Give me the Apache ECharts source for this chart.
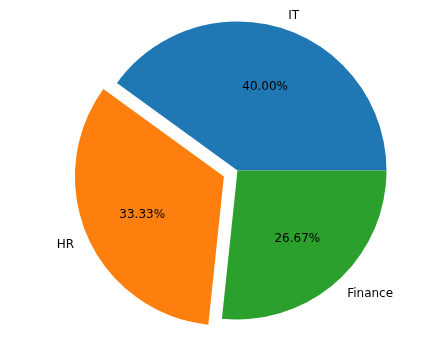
<!DOCTYPE html>
<html>
<head>
<meta charset="utf-8">
<script src="https://cdn.jsdelivr.net/npm/echarts@6/dist/echarts.min.js"></script>
<style>
  html, body { margin: 0; padding: 0; background: #fff; }
  #chart { width: 444px; height: 343px; }
</style>
</head>
<body>
<div id="chart"></div>
<script>
// pie data
const categories = ['IT', 'HR', 'Finance']
const values = [6, 5, 4]
const explode = [0, 0.1, 0]
const colors = ['#1f77b4', '#ff7f0e', '#2ca02c']

const cx = 237.5
const cy = 170.5
const R = 149
const total = values.reduce((a, b) => a + b, 0)

// label position like matplotlib: distance in units of radius, from wedge centre
function labelAt(i, dist) {
  let before = 0
  for (let k = 0; k < i; k++) before += values[k]
  const ang = (before + values[i] / 2) / total * 2 * Math.PI
  const d = (explode[i] + dist) * R
  const x = cx + d * Math.cos(ang)
  const y = cy - d * Math.sin(ang) + 1.5
  return { x: x, y: y, cos: Math.cos(ang) }
}

// invisible pie that only carries labels
function labelSeries(dist, fmt, alignFn) {
  return {
    type: 'pie',
    center: [cx, cy],
    radius: R,
    startAngle: 0,
    clockwise: false,
    silent: true,
    emphasis: { disabled: true },
    itemStyle: { color: 'transparent', borderWidth: 0 },
    labelLine: { show: false },
    label: {
      show: true,
      position: 'inside',
      color: '#000',
      fontFamily: 'DejaVu Sans',
      fontSize: 12,
      formatter: fmt
    },
    labelLayout: p => {
      const pos = labelAt(p.dataIndex, dist)
      return { x: pos.x, y: pos.y, align: alignFn(pos), verticalAlign: 'middle' }
    },
    data: categories.map((c, i) => ({ name: c, value: values[i] }))
  }
}

const chart = echarts.init(document.getElementById('chart'))

chart.setOption({
  animation: false,
  series: [
    {
      type: 'pie',
      center: [cx, cy],
      radius: R,
      startAngle: 0,
      clockwise: false,
      silent: true,
      selectedMode: 'multiple',
      selectedOffset: explode[1] * R,
      select: { itemStyle: { borderWidth: 0 } },
      emphasis: { disabled: true },
      itemStyle: { borderWidth: 0 },
      label: { show: false },
      labelLine: { show: false },
      data: categories.map((c, i) => ({
        name: c,
        value: values[i],
        selected: explode[i] > 0,
        itemStyle: { color: colors[i] }
      }))
    },
    labelSeries(0.6, p => p.percent.toFixed(2) + '%', () => 'center'),
    labelSeries(1.1, '{b}', pos => (pos.cos > 0 ? 'left' : 'right'))
  ]
})
</script>
</body>
</html>
